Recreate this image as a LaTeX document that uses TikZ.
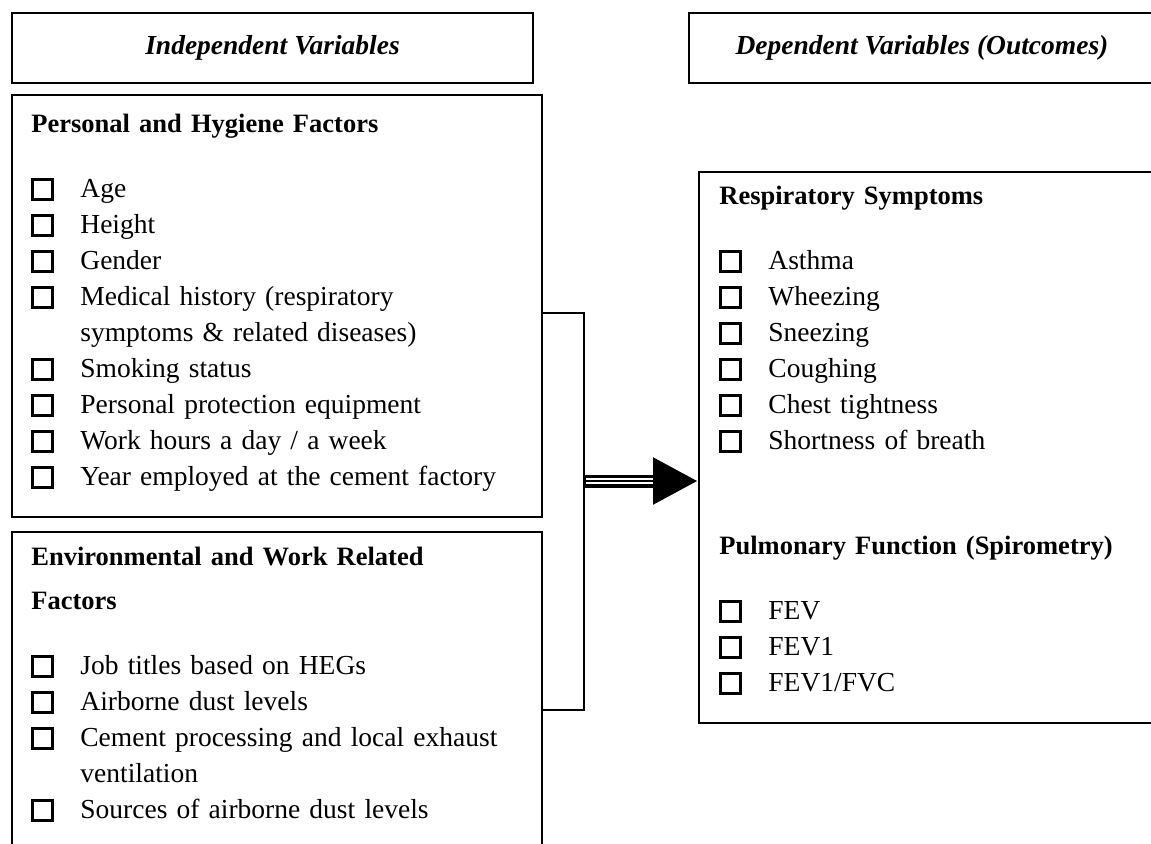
\documentclass[tikz,border=0pt]{standalone}
\usepackage{fontspec}
\setmainfont{Liberation Serif}
\usepackage{tikz}
\usetikzlibrary{arrows.meta,positioning}

\newcommand{\cb}{\makebox[24.5pt][l]{\raisebox{-0.5pt}{\setlength{\fboxsep}{0pt}\setlength{\fboxrule}{1.5pt}\fbox{\rule{0pt}{8.5pt}\hspace{8.5pt}}}}}
\newcommand{\hd}[1]{{\fontsize{13.25}{18}\selectfont\bfseries #1}}

\begin{document}
\begin{tikzpicture}[
  x=0.5pt, y=-0.5pt,
  frame/.style={draw, line width=1pt, anchor=north west, inner sep=0pt},
  title/.style={frame, font=\fontsize{13.75}{18}\selectfont\bfseries\itshape},
  list/.style={anchor=base west, inner sep=0pt, text width=250pt, align=left,
    font=\fontsize{13.75}{18}\selectfont},
  link/.style={line width=1pt},
  arrow/.style={-{Triangle[length=22.5pt,width=22pt]}, line width=6.5pt}
]
  \clip (0,0) rectangle (1151,843);

  \node[title, minimum width=260.5pt, minimum height=35pt] (indep) at (11,12) {Independent Variables};
  \node[title, minimum width=233pt, minimum height=35pt] (dep) at (688,12) {Dependent Variables (Outcomes)};

  \node[frame, minimum width=265pt, minimum height=211pt] (pers) at (11,94) {};
  \node[frame, minimum width=265pt, minimum height=184.5pt] (env) at (11,531) {};
  \node[frame, minimum width=231pt, minimum height=275.5pt] (resp) at (698,171) {};

  \node[list] (persList) at (31,132) {\hd{Personal and Hygiene Factors}\\[14.5pt]
    \cb Age\\
    \cb Height\\
    \cb Gender\\
    \cb Medical history (respiratory\\
    \hspace*{24.5pt}symptoms \& related diseases)\\
    \cb Smoking status\\
    \cb Personal protection equipment\\
    \cb Work hours a day / a week\\
    \cb Year employed at the cement factory};

  \node[list] (envList) at (31,565) {\hd{Environmental and Work Related}\\[4pt]
    \hd{Factors}\\[14.5pt]
    \cb Job titles based on HEGs\\
    \cb Airborne dust levels\\
    \cb Cement processing and local exhaust\\
    \hspace*{24.5pt}ventilation\\
    \cb Sources of airborne dust levels};

  \node[list, text width=220pt] (respList) at (719,204) {\hd{Respiratory Symptoms}\\[14.5pt]
    \cb Asthma\\
    \cb Wheezing\\
    \cb Sneezing\\
    \cb Coughing\\
    \cb Chest tightness\\
    \cb Shortness of breath\\[34.5pt]
    \hd{Pulmonary Function (Spirometry)}\\[14.5pt]
    \cb FEV\\
    \cb FEV1\\
    \cb FEV1/FVC};

  \coordinate (jt) at (584,313);
  \coordinate (jn) at (584,481);
  \coordinate (jb) at (584,710);

  \draw[link] (pers.east |- jt) -- (jt) -- (jb) -- (env.east |- jb);
  \draw[arrow] (jn) -- (resp.west |- jn);
  \draw[white, line width=0.9pt, double=black, double distance=1.4pt,
    shorten <=1pt, shorten >=22.5pt] (jn) -- (resp.west |- jn);
\end{tikzpicture}
\end{document}
